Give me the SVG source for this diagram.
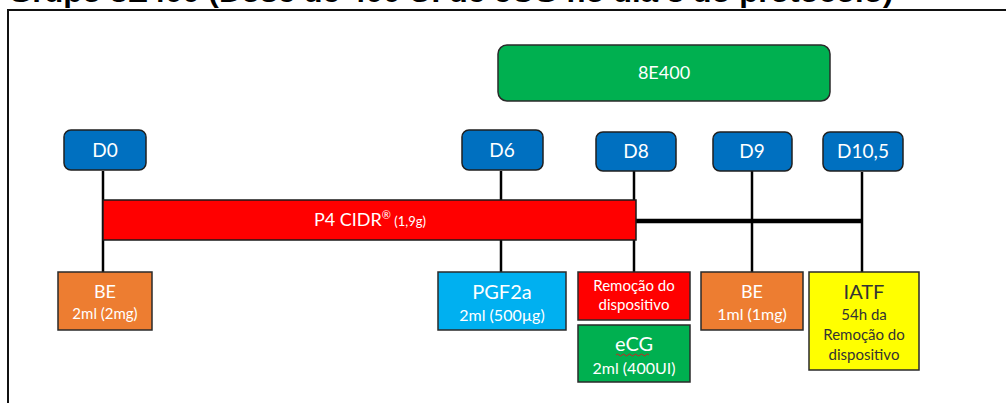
<svg xmlns="http://www.w3.org/2000/svg" width="1006" height="403" viewBox="0 0 1006 403">
  <style>
    .lbl { font-family: Lato, "Open Sans", sans-serif; text-anchor: middle; fill: #ffffff; }
    .dark { fill: #333333; }
    .day { fill: #0070C0; stroke: #1f1f1f; stroke-width: 1.5; }
    .box { stroke: #2a2a2a; stroke-width: 1.5; }
    .stem { stroke: #000000; stroke-width: 2.5; fill: none; }
    .title { font-family: "Liberation Sans", Arial, sans-serif; font-weight: bold; font-size: 28px; fill: #000; }
  </style>

  <rect width="1006" height="403" fill="#ffffff"/>

  <!-- heading, cut by the top edge -->
  <text class="title" x="8" y="1.5" textLength="885" lengthAdjust="spacingAndGlyphs">Grupo 8E400 (Dose de 400 UI de eCG no dia 8 do protocolo)</text>

  <!-- frame -->
  <path d="M8,403 V10 H1006" fill="none" stroke="#111" stroke-width="2"/>

  <!-- connectors -->
  <g id="connectors">
    <line class="stem" x1="103" y1="171" x2="103" y2="272"/>
    <line class="stem" x1="501" y1="171" x2="501" y2="272"/>
    <line class="stem" x1="634" y1="171" x2="634" y2="272"/>
    <line class="stem" x1="752" y1="171" x2="752" y2="272"/>
    <line class="stem" x1="862" y1="172" x2="862" y2="272"/>
    <line x1="636" y1="221" x2="863" y2="221" stroke="#000" stroke-width="4.5"/>
  </g>

  <!-- treatment bar -->
  <g id="p4-cidr">
    <rect x="103" y="200" width="533" height="40" fill="#FF0000" stroke="#1a1a1a" stroke-width="1.5"/>
    <text class="lbl" x="370" y="226" font-size="18">P4 CIDR<tspan font-size="11" dy="-7">®</tspan><tspan font-size="13" dy="7"> (1,9g)</tspan></text>
  </g>

  <g id="grupo-8e400">
    <rect x="498" y="45" width="332" height="56" rx="9" fill="#00B050" stroke="#2a2a2a" stroke-width="1.5"/>
    <text class="lbl" x="664" y="79" font-size="18">8E400</text>
  </g>

  <!-- day markers -->
  <g id="d0">
    <rect class="day" x="64" y="130" width="82" height="40" rx="7"/>
    <text class="lbl" x="105" y="157" font-size="19">D0</text>
  </g>
  <g id="d6">
    <rect class="day" x="462" y="130" width="81" height="40" rx="7"/>
    <text class="lbl" x="502" y="157" font-size="19">D6</text>
  </g>
  <g id="d8">
    <rect class="day" x="596" y="132" width="80" height="39" rx="7"/>
    <text class="lbl" x="636" y="158" font-size="19">D8</text>
  </g>
  <g id="d9">
    <rect class="day" x="713" y="132" width="79" height="39" rx="7"/>
    <text class="lbl" x="752" y="158" font-size="19">D9</text>
  </g>
  <g id="d10-5">
    <rect class="day" x="823" y="132" width="80" height="39" rx="7"/>
    <text class="lbl" x="863" y="158" font-size="19">D10,5</text>
  </g>

  <!-- treatments -->
  <g id="be-d0">
    <rect class="box" x="58" y="272" width="94" height="58" fill="#ED7D31"/>
    <text class="lbl" x="105" y="298" font-size="18">BE</text>
    <text class="lbl" x="105" y="319" font-size="15">2ml (2mg)</text>
  </g>
  <g id="pgf2a">
    <rect class="box" x="438" y="272" width="128" height="58" fill="#00B0F0"/>
    <text class="lbl" x="502" y="299" font-size="20">PGF2a</text>
    <text class="lbl" x="502" y="321" font-size="16">2ml (500µg)</text>
  </g>
  <g id="remocao">
    <rect class="box" x="578" y="272" width="112" height="48" fill="#FF0000"/>
    <text class="lbl" x="634" y="291" font-size="15">Remoção do</text>
    <text class="lbl" x="634" y="310" font-size="15">dispositivo</text>
  </g>
  <g id="ecg">
    <rect class="box" x="578" y="325" width="112" height="57" fill="#00B050"/>
    <text class="lbl" x="634" y="351" font-size="20">eCG</text>
    <path d="M616,355 q1.5,-2 3,0 t3,0 t3,0 t3,0 t3,0 t3,0 t3,0 t3,0 t3,0 t3,0 t3,0" fill="none" stroke="#d02020" stroke-width="1"/>
    <text class="lbl" x="634" y="374" font-size="16">2ml (400UI)</text>
  </g>
  <g id="be-d9">
    <rect class="box" x="701" y="272" width="102" height="58" fill="#ED7D31"/>
    <text class="lbl" x="752" y="298" font-size="18">BE</text>
    <text class="lbl" x="752" y="320" font-size="16">1ml (1mg)</text>
  </g>
  <g id="iatf">
    <rect class="box" x="809" y="272" width="110" height="98" fill="#FFFF00"/>
    <text class="lbl dark" x="864" y="299" font-size="20">IATF</text>
    <text class="lbl dark" x="864" y="320" font-size="15">54h da</text>
    <text class="lbl dark" x="864" y="340" font-size="15">Remoção do</text>
    <text class="lbl dark" x="864" y="360" font-size="15">dispositivo</text>
  </g>
</svg>
